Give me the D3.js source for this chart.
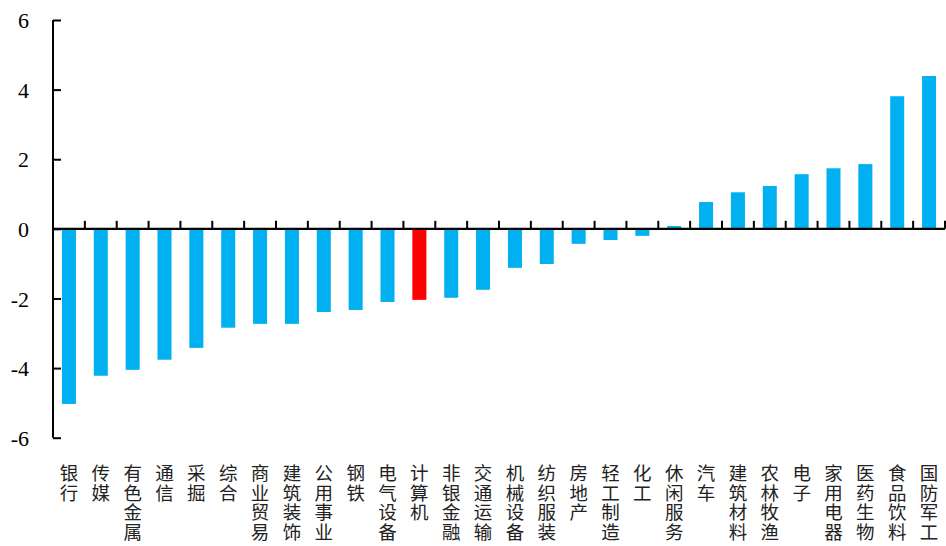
<!DOCTYPE html>
<html>
<head>
<meta charset="utf-8">
<script src="https://cdn.jsdelivr.net/npm/d3@7"></script>
<style>
body { margin: 0; background: #fff; }
svg { display: block; }
</style>
</head>
<body>
<svg id="chart" width="946" height="546"></svg>
<script>
const categories = ["银行","传媒","有色金属","通信","采掘","综合","商业贸易","建筑装饰","公用事业","钢铁","电气设备","计算机","非银金融","交通运输","机械设备","纺织服装","房地产","轻工制造","化工","休闲服务","汽车","建筑材料","农林牧渔","电子","家用电器","医药生物","食品饮料","国防军工"];
const values = [-5.03,-4.22,-4.05,-3.76,-3.42,-2.84,-2.73,-2.73,-2.39,-2.33,-2.10,-2.04,-1.98,-1.75,-1.12,-1.01,-0.43,-0.32,-0.20,0.08,0.77,1.05,1.23,1.57,1.74,1.86,3.81,4.39];
const highlight = ["计算机"];
const yTicks = [-6,-4,-2,0,2,4,6];

const svg = d3.select("#chart");
const x = d3.scaleBand().domain(categories).range([53, 945]).paddingInner(0.56).paddingOuter(0.28);
const y = d3.scaleLinear().domain([-6, 6]).range([437.7, 20]);

// bars
svg.append("g").selectAll("rect").data(categories).join("rect")
  .attr("x", d => x(d))
  .attr("width", x.bandwidth())
  .attr("y", (d,i) => y(Math.max(0, values[i])))
  .attr("height", (d,i) => Math.abs(y(values[i]) - y(0)))
  .attr("fill", d => highlight.includes(d) ? "#FF0000" : "#00B0F0");

// y axis
const yAxis = d3.axisRight(y).tickValues(yTicks).tickSize(8);
const gy = svg.append("g").attr("transform", "translate(53,0)").call(yAxis);
gy.attr("font-family", null).attr("font-size", null);
gy.select(".domain").attr("stroke", "#000").attr("stroke-width", 2).attr("d", `M0,${y(6)}V${y(-6)}`);
gy.selectAll(".tick line").attr("stroke", "#000").attr("stroke-width", 2);
gy.selectAll(".tick text")
  .style("font-family", "'Liberation Serif', 'Times New Roman', Times, serif")
  .style("font-size", "22px")
  .attr("x", -24).attr("text-anchor", "end").attr("dy", "0.35em")
  .attr("fill", "#000")
  .text(d => d < 0 ? "-" + Math.abs(d) : d);

// x baseline with ticks between categories
const boundaries = d3.range(1, categories.length + 1).map(i => x(categories[0]) - x.step() * x.paddingOuter() + i * x.step());
const gx = svg.append("g");
gx.append("line").attr("x1", 53).attr("x2", 945).attr("y1", y(0)).attr("y2", y(0))
  .attr("stroke", "#000").attr("stroke-width", 2.2);
gx.selectAll("line.tk").data(boundaries).join("line").attr("class", "tk")
  .attr("x1", d => d).attr("x2", d => d)
  .attr("y1", y(0)).attr("y2", y(0) - 8)
  .attr("stroke", "#000").attr("stroke-width", 2);

// category labels, vertical stacked characters
const lab = svg.append("g").attr("fill", "#222");
categories.forEach(c => {
  const cx = x(c) + x.bandwidth() / 2;
  Array.from(c).forEach((ch, j) => {
    lab.append("text")
      .style("font-family", "'Noto Sans CJK SC', sans-serif")
      .style("font-size", "18.5px")
      .attr("text-anchor", "middle")
      .attr("x", cx).attr("y", 480 + j * 19.6).text(ch);
  });
});
</script>
</body>
</html>
